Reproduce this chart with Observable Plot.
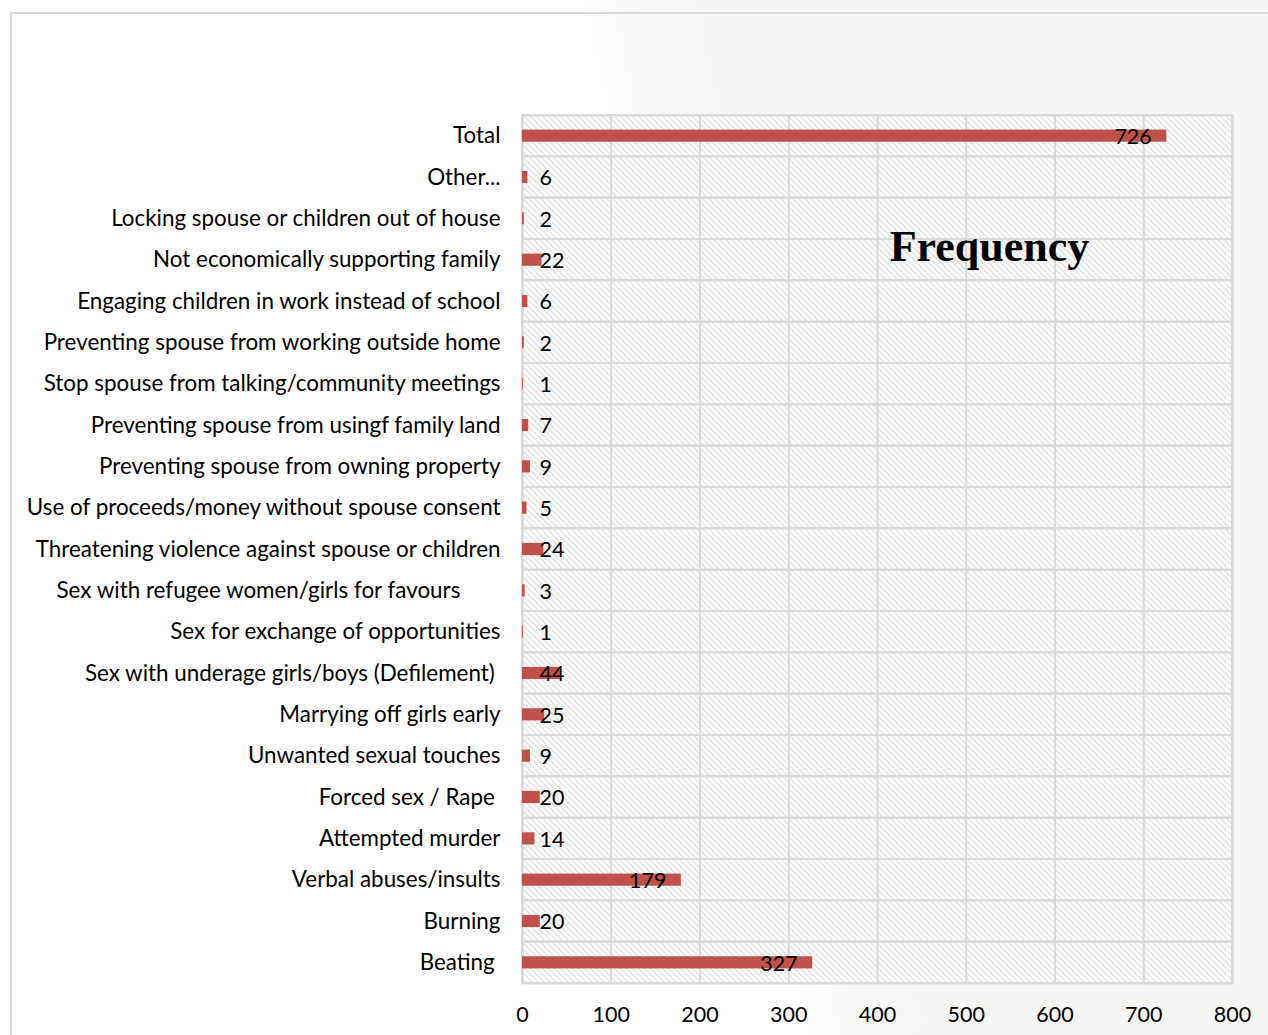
<!DOCTYPE html>
<html>
<head>
<meta charset="utf-8">
<script src="https://cdn.jsdelivr.net/npm/d3@7"></script>
<script src="https://cdn.jsdelivr.net/npm/@observablehq/plot@0.6"></script>
<style>
  html, body { margin: 0; padding: 0; }
  body {
    width: 1268px; height: 1035px; overflow: hidden; position: relative;
    background: linear-gradient(77.6deg, #ffffff 0%, #ffffff 54%, #f6f6f4 58%, #f5f5f3 100%);
  }
  #border {
    position: absolute; left: 10px; top: 12px; width: 1400px; height: 1200px;
    border-left: 2px solid #dadada; border-top: 2px solid #dadada; box-sizing: border-box;
  }
  #chart { position: absolute; left: 0; top: 0; }
</style>
</head>
<body>
<div id="border"></div>
<div id="chart"></div>
<script>
// Reported forms of violence, listed top to bottom
const categories = [
  "Total",
  "Other...",
  "Locking spouse or children out of house",
  "Not economically supporting family",
  "Engaging children in work instead of school",
  "Preventing spouse from working outside home",
  "Stop spouse from talking/community meetings",
  "Preventing spouse from usingf family land",
  "Preventing spouse from owning property",
  "Use of proceeds/money without spouse consent",
  "Threatening violence against spouse or children",
  "Sex with refugee women/girls for favours\u00a0\u00a0\u00a0\u00a0\u00a0\u00a0\u00a0",
  "Sex for exchange of opportunities",
  "Sex with underage girls/boys (Defilement)\u00a0",
  "Marrying off girls early",
  "Unwanted sexual touches",
  "Forced sex / Rape\u00a0",
  "Attempted murder",
  "Verbal abuses/insults",
  "Burning",
  "Beating\u00a0"
];

// Frequency of each category
const frequency = [726, 6, 2, 22, 6, 2, 1, 7, 9, 5, 24, 3, 1, 44, 25, 9, 20, 14, 179, 20, 327];

// Value axis ticks
const xTicks = [0, 100, 200, 300, 400, 500, 600, 700, 800];

const data = categories.map((category, i) => ({category, value: frequency[i]}));

const gridColor = "#d9d9d9";

const chart = Plot.plot({
  width: 1268,
  height: 1035,
  marginLeft: 522,
  marginRight: 36,
  marginTop: 115,
  marginBottom: 52,
  style: {fontFamily: "Lato, sans-serif", fontSize: "21px", color: "#000", background: "transparent", overflow: "visible"},
  x: {domain: [0, 800]},
  y: {domain: categories, padding: 0, round: false},
  marks: [
    Plot.frame({fill: "url(#hatch)", stroke: gridColor, strokeWidth: 2}),
    Plot.cell(data, {y: "category", fill: "none", stroke: gridColor, strokeWidth: 2}),
    Plot.ruleX(xTicks, {stroke: gridColor, strokeWidth: 2}),
    Plot.barX(data, {x: "value", y: "category", fill: "#C0504D", insetTop: 14.6, insetBottom: 14.6}),
    // long bars: label sits inside the bar end
    Plot.text(data.filter(d => d.value >= 100), {
      x: "value", y: "category", text: d => String(d.value),
      textAnchor: "end", dx: -15, dy: 1, fontSize: 21.5, fill: "#000"
    }),
    // short bars: label sits just right of the axis
    Plot.text(data.filter(d => d.value < 100), {
      x: 0, y: "category", text: d => String(d.value),
      textAnchor: "start", dx: 17, dy: 1, fontSize: 21.5, fill: "#000"
    }),
    Plot.axisY({tickSize: 0, tickPadding: 22, fontSize: 22.4, label: null}),
    Plot.axisX({ticks: xTicks, tickSize: 0, tickPadding: 23, fontSize: 21.5, label: null}),
    Plot.text(["Frequency"], {
      frameAnchor: "top", lineAnchor: "middle", dx: 112, dy: 131, text: d => d,
      fontFamily: "Liberation Serif, serif", fontWeight: "bold", fontSize: 44, fill: "#000"
    })
  ]
});

// diagonal hatch used as the plot-area fill
const svg = d3.select(chart);
const defs = svg.insert("defs", ":first-child");
const pat = defs.append("pattern")
  .attr("id", "hatch")
  .attr("patternUnits", "userSpaceOnUse")
  .attr("width", 6).attr("height", 6);
pat.append("rect").attr("width", 6).attr("height", 6).attr("fill", "#ffffff");
pat.append("path")
  .attr("d", "M-1,-1 L7,7 M-1,5 L1,7 M5,-1 L7,1")
  .attr("stroke", "#d4d4d4").attr("stroke-width", 1.1);

document.getElementById("chart").appendChild(chart);
</script>
</body>
</html>
